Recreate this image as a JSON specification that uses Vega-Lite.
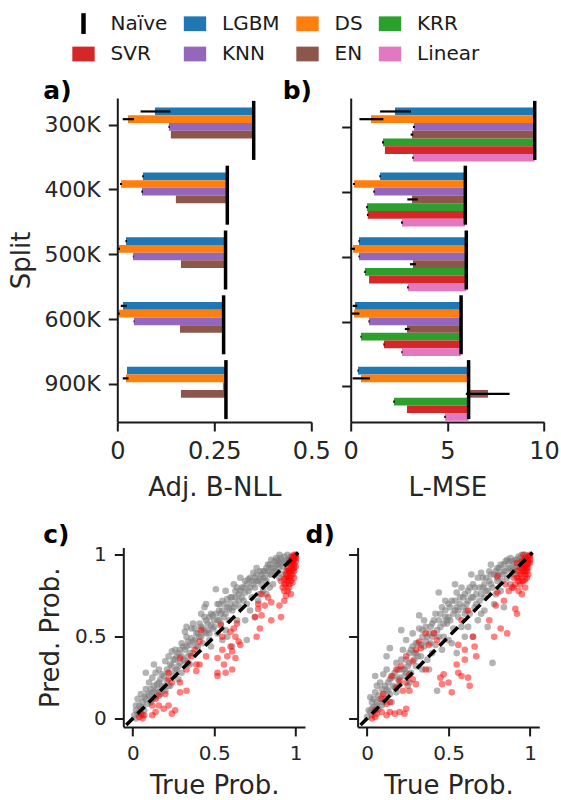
{
"$schema": "https://vega.github.io/schema/vega-lite/v6.json",
"padding": {"left": 0, "top": 12, "right": 5, "bottom": 0},
"config": {
 "font": "DejaVu Sans",
 "view": {"stroke": null},
 "axis": {"grid": false, "domainColor": "#1a1a1a", "domainWidth": 2, "tickColor": "#1a1a1a", "tickWidth": 2, "tickSize": 9, "labelColor": "#262626", "titleColor": "#262626", "labelFontSize": 22, "titleFontSize": 26, "titleFontWeight": "normal", "labelFlush": false, "labelOverlap": false, "labelPadding": 8, "titlePadding": 8},
 "title": {"fontSize": 25, "fontWeight": "bold", "color": "black", "anchor": "start", "frame": "group", "baseline": "alphabetic", "offset": -5}
},
"datasets": {
 "models": [{"model":"Naïve"},{"model":"LGBM"},{"model":"DS"},{"model":"KRR"},{"model":"SVR"},{"model":"KNN"},{"model":"EN"},{"model":"Linear"}],
 "barsA": [
  {"split":"300K","model":"LGBM","value":0.097,"naive":0.3515,"lo":0.060,"hi":0.137},
  {"split":"300K","model":"DS","value":0.0276,"naive":0.3515,"lo":0.014,"hi":0.043},
  {"split":"300K","model":"KNN","value":0.133,"naive":0.3515,"lo":0.132,"hi":0.135},
  {"split":"300K","model":"EN","value":0.138,"naive":0.3515},
  {"split":"400K","model":"LGBM","value":0.066,"naive":0.2835,"lo":0.064,"hi":0.068},
  {"split":"400K","model":"DS","value":0.0095,"naive":0.2835,"lo":0.007,"hi":0.012},
  {"split":"400K","model":"KNN","value":0.0637,"naive":0.2835,"lo":0.062,"hi":0.066},
  {"split":"400K","model":"EN","value":0.151,"naive":0.2835},
  {"split":"500K","model":"LGBM","value":0.0224,"naive":0.279,"lo":0.021,"hi":0.025},
  {"split":"500K","model":"DS","value":0.0044,"naive":0.279,"lo":0.002,"hi":0.007},
  {"split":"500K","model":"KNN","value":0.0407,"naive":0.279,"lo":0.040,"hi":0.042},
  {"split":"500K","model":"EN","value":0.164,"naive":0.279},
  {"split":"600K","model":"LGBM","value":0.0147,"naive":0.274,"lo":0.009,"hi":0.024},
  {"split":"600K","model":"DS","value":0.0044,"naive":0.274,"lo":0.002,"hi":0.006},
  {"split":"600K","model":"KNN","value":0.043,"naive":0.274,"lo":0.042,"hi":0.044},
  {"split":"600K","model":"EN","value":0.1616,"naive":0.274},
  {"split":"900K","model":"LGBM","value":0.025,"naive":0.28},
  {"split":"900K","model":"DS","value":0.0224,"naive":0.28,"lo":0.014,"hi":0.029},
  {"split":"900K","model":"KNN","value":0.272,"naive":0.28},
  {"split":"900K","model":"EN","value":0.164,"naive":0.28}
 ],
 "naiveA": [{"split":"300K","naive":0.3515},{"split":"400K","naive":0.2835},{"split":"500K","naive":0.279},{"split":"600K","naive":0.274},{"split":"900K","naive":0.28}],
 "barsB": [
  {"split":"300K","model":"LGBM","value":2.29,"naive":9.52,"lo":1.52,"hi":3.12},
  {"split":"300K","model":"DS","value":1.05,"naive":9.52,"lo":0.45,"hi":1.69},
  {"split":"300K","model":"KRR","value":1.67,"naive":9.52,"lo":1.62,"hi":1.72},
  {"split":"300K","model":"SVR","value":1.77,"naive":9.52},
  {"split":"300K","model":"KNN","value":3.27,"naive":9.52,"lo":3.22,"hi":3.32},
  {"split":"300K","model":"EN","value":3.17,"naive":9.52,"lo":3.1,"hi":3.24},
  {"split":"300K","model":"Linear","value":3.22,"naive":9.52,"lo":3.18,"hi":3.26},
  {"split":"400K","model":"LGBM","value":1.52,"naive":5.93,"lo":1.48,"hi":1.56},
  {"split":"400K","model":"DS","value":0.17,"naive":5.93,"lo":0.12,"hi":0.22},
  {"split":"400K","model":"KRR","value":0.84,"naive":5.93,"lo":0.8,"hi":0.88},
  {"split":"400K","model":"SVR","value":0.88,"naive":5.93,"lo":0.84,"hi":0.92},
  {"split":"400K","model":"KNN","value":1.21,"naive":5.93,"lo":1.17,"hi":1.25},
  {"split":"400K","model":"EN","value":3.17,"naive":5.93,"lo":2.93,"hi":3.47},
  {"split":"400K","model":"Linear","value":2.65,"naive":5.93,"lo":2.6,"hi":2.7},
  {"split":"500K","model":"LGBM","value":0.43,"naive":5.98,"lo":0.4,"hi":0.46},
  {"split":"500K","model":"DS","value":0.12,"naive":5.98,"lo":0.0,"hi":0.22},
  {"split":"500K","model":"KRR","value":0.74,"naive":5.98,"lo":0.7,"hi":0.78},
  {"split":"500K","model":"SVR","value":0.95,"naive":5.98},
  {"split":"500K","model":"KNN","value":0.43,"naive":5.98,"lo":0.4,"hi":0.46},
  {"split":"500K","model":"EN","value":3.22,"naive":5.98,"lo":3.07,"hi":3.38},
  {"split":"500K","model":"Linear","value":2.96,"naive":5.98,"lo":2.92,"hi":3.0},
  {"split":"600K","model":"LGBM","value":0.22,"naive":5.71,"lo":0.1,"hi":0.34},
  {"split":"600K","model":"DS","value":0.17,"naive":5.71,"lo":0.05,"hi":0.45},
  {"split":"600K","model":"KRR","value":0.53,"naive":5.71,"lo":0.5,"hi":0.56},
  {"split":"600K","model":"SVR","value":1.72,"naive":5.71,"lo":1.69,"hi":1.75},
  {"split":"600K","model":"KNN","value":0.95,"naive":5.71,"lo":0.92,"hi":0.98},
  {"split":"600K","model":"EN","value":2.91,"naive":5.71,"lo":2.8,"hi":3.05},
  {"split":"600K","model":"Linear","value":2.65,"naive":5.71,"lo":2.62,"hi":2.68},
  {"split":"900K","model":"LGBM","value":0.38,"naive":6.1,"lo":0.35,"hi":0.41},
  {"split":"900K","model":"DS","value":0.53,"naive":6.1,"lo":0.1,"hi":1.0},
  {"split":"900K","model":"KRR","value":2.24,"naive":6.1,"lo":2.2,"hi":2.28},
  {"split":"900K","model":"SVR","value":2.91,"naive":6.1},
  {"split":"900K","model":"KNN","value":6.1,"naive":6.1},
  {"split":"900K","model":"EN","value":7.1,"naive":6.1,"lo":5.96,"hi":8.22},
  {"split":"900K","model":"Linear","value":4.88,"naive":6.1,"lo":4.84,"hi":4.92}
 ],
 "naiveB": [{"split":"300K","naive":9.52},{"split":"400K","naive":5.93},{"split":"500K","naive":5.98},{"split":"600K","naive":5.71},{"split":"900K","naive":6.1}],
 "diag": [{"x":-0.04,"y":-0.04},{"x":1.015,"y":1.015}],
 "greyC": [
  {"x":0.01,"y":0.02},{"x":0.02,"y":0.05},{"x":0.03,"y":0.03},{"x":0.04,"y":0.08},{"x":0.05,"y":0.06},{"x":0.06,"y":0.1},{"x":0.03,"y":0.12},{"x":0.07,"y":0.05},{"x":0.08,"y":0.12},{"x":0.09,"y":0.09},{"x":0.05,"y":0.15},{"x":0.1,"y":0.14},{"x":0.02,"y":0.0},{"x":0.06,"y":0.02},{"x":0.08,"y":0.18},
  {"x":0.11,"y":0.1},{"x":0.12,"y":0.16},{"x":0.13,"y":0.2},{"x":0.14,"y":0.13},{"x":0.15,"y":0.18},{"x":0.16,"y":0.22},{"x":0.12,"y":0.25},{"x":0.17,"y":0.15},{"x":0.18,"y":0.2},{"x":0.19,"y":0.26},{"x":0.14,"y":0.28},{"x":0.2,"y":0.17},{"x":0.16,"y":0.3},{"x":0.1,"y":0.22},{"x":0.08,"y":0.28},{"x":0.13,"y":0.33},
  {"x":0.21,"y":0.23},{"x":0.22,"y":0.28},{"x":0.23,"y":0.2},{"x":0.24,"y":0.32},{"x":0.25,"y":0.26},{"x":0.26,"y":0.36},{"x":0.27,"y":0.3},{"x":0.28,"y":0.24},{"x":0.22,"y":0.38},{"x":0.24,"y":0.41},{"x":0.29,"y":0.34},{"x":0.3,"y":0.28},{"x":0.2,"y":0.35},{"x":0.26,"y":0.42},{"x":0.28,"y":0.4},
  {"x":0.31,"y":0.36},{"x":0.32,"y":0.42},{"x":0.33,"y":0.5},{"x":0.34,"y":0.38},{"x":0.35,"y":0.45},{"x":0.36,"y":0.55},{"x":0.37,"y":0.4},{"x":0.38,"y":0.48},{"x":0.39,"y":0.52},{"x":0.3,"y":0.46},{"x":0.33,"y":0.56},{"x":0.35,"y":0.33},{"x":0.4,"y":0.44},{"x":0.37,"y":0.58},{"x":0.32,"y":0.53},
  {"x":0.41,"y":0.5},{"x":0.42,"y":0.56},{"x":0.43,"y":0.46},{"x":0.44,"y":0.62},{"x":0.45,"y":0.52},{"x":0.46,"y":0.58},{"x":0.47,"y":0.48},{"x":0.48,"y":0.64},{"x":0.49,"y":0.55},{"x":0.5,"y":0.6},{"x":0.44,"y":0.68},{"x":0.45,"y":0.7},{"x":0.42,"y":0.64},{"x":0.48,"y":0.44},{"x":0.47,"y":0.52},
  {"x":0.51,"y":0.79},{"x":0.52,"y":0.52},{"x":0.53,"y":0.66},{"x":0.54,"y":0.58},{"x":0.55,"y":0.72},{"x":0.56,"y":0.62},{"x":0.57,"y":0.54},{"x":0.58,"y":0.68},{"x":0.59,"y":0.6},{"x":0.6,"y":0.74},{"x":0.52,"y":0.7},{"x":0.55,"y":0.48},{"x":0.58,"y":0.5},{"x":0.57,"y":0.78},{"x":0.53,"y":0.6},
  {"x":0.61,"y":0.66},{"x":0.62,"y":0.82},{"x":0.63,"y":0.7},{"x":0.64,"y":0.6},{"x":0.65,"y":0.76},{"x":0.66,"y":0.68},{"x":0.67,"y":0.8},{"x":0.68,"y":0.72},{"x":0.69,"y":0.84},{"x":0.7,"y":0.7},{"x":0.61,"y":0.44},{"x":0.63,"y":0.78},{"x":0.66,"y":0.86},{"x":0.69,"y":0.6},{"x":0.7,"y":0.48},
  {"x":0.71,"y":0.78},{"x":0.72,"y":0.86},{"x":0.73,"y":0.74},{"x":0.74,"y":0.89},{"x":0.75,"y":0.8},{"x":0.76,"y":0.84},{"x":0.77,"y":0.72},{"x":0.78,"y":0.9},{"x":0.79,"y":0.82},{"x":0.8,"y":0.86},{"x":0.72,"y":0.66},{"x":0.75,"y":0.62},{"x":0.78,"y":0.76},{"x":0.76,"y":0.92},{"x":0.8,"y":0.78},
  {"x":0.81,"y":0.9},{"x":0.82,"y":0.84},{"x":0.83,"y":0.94},{"x":0.84,"y":0.88},{"x":0.85,"y":0.92},{"x":0.86,"y":0.82},{"x":0.87,"y":0.96},{"x":0.88,"y":0.9},{"x":0.89,"y":0.94},{"x":0.9,"y":0.86},{"x":0.82,"y":0.76},{"x":0.85,"y":0.97},{"x":0.88,"y":0.98},{"x":0.84,"y":0.8},{"x":0.9,"y":0.96},
  {"x":0.91,"y":0.98},{"x":0.92,"y":0.93},{"x":0.93,"y":0.99},{"x":0.94,"y":0.95},{"x":0.95,"y":1.0},{"x":0.96,"y":0.97},{"x":0.97,"y":0.99},{"x":0.92,"y":0.88},{"x":0.9,"y":1.0},{"x":0.94,"y":0.9},
  {"x":0.02,"y":0.08},{"x":0.04,"y":0.04},{"x":0.06,"y":0.07},{"x":0.07,"y":0.13},{"x":0.09,"y":0.15},{"x":0.11,"y":0.18},{"x":0.12,"y":0.12},{"x":0.13,"y":0.16},{"x":0.15,"y":0.21},{"x":0.16,"y":0.16},{"x":0.17,"y":0.24},{"x":0.18,"y":0.27},{"x":0.19,"y":0.19},{"x":0.21,"y":0.3},{"x":0.22,"y":0.2},{"x":0.23,"y":0.33},{"x":0.25,"y":0.36},{"x":0.26,"y":0.29},{"x":0.27,"y":0.38},{"x":0.28,"y":0.32},{"x":0.29,"y":0.42},{"x":0.3,"y":0.38},{"x":0.31,"y":0.44},{"x":0.32,"y":0.35},{"x":0.33,"y":0.44},{"x":0.34,"y":0.47},{"x":0.35,"y":0.4},{"x":0.36,"y":0.49},{"x":0.37,"y":0.47},{"x":0.38,"y":0.55},{"x":0.39,"y":0.44},{"x":0.4,"y":0.52},{"x":0.41,"y":0.58},{"x":0.42,"y":0.5},{"x":0.43,"y":0.55},{"x":0.44,"y":0.53},{"x":0.45,"y":0.6},{"x":0.46,"y":0.54},{"x":0.47,"y":0.62},{"x":0.48,"y":0.57},{"x":0.49,"y":0.63},{"x":0.5,"y":0.56},{"x":0.51,"y":0.64},{"x":0.52,"y":0.6},{"x":0.53,"y":0.7},{"x":0.54,"y":0.64},{"x":0.55,"y":0.66},{"x":0.56,"y":0.7},{"x":0.57,"y":0.64},{"x":0.58,"y":0.73},{"x":0.59,"y":0.67},{"x":0.6,"y":0.7},{"x":0.61,"y":0.74},{"x":0.62,"y":0.68},{"x":0.63,"y":0.74},{"x":0.64,"y":0.8},{"x":0.65,"y":0.72},{"x":0.66,"y":0.78},{"x":0.67,"y":0.74},{"x":0.68,"y":0.8},{"x":0.69,"y":0.77},{"x":0.7,"y":0.82},{"x":0.71,"y":0.85},{"x":0.72,"y":0.8},{"x":0.73,"y":0.84},{"x":0.74,"y":0.82},{"x":0.75,"y":0.86},{"x":0.76,"y":0.88},{"x":0.77,"y":0.84},{"x":0.78,"y":0.85},{"x":0.79,"y":0.88},{"x":0.8,"y":0.9},{"x":0.81,"y":0.86},{"x":0.82,"y":0.92},{"x":0.83,"y":0.9},{"x":0.84,"y":0.94},{"x":0.85,"y":0.88},{"x":0.86,"y":0.92},{"x":0.87,"y":0.9},{"x":0.88,"y":0.94},{"x":0.89,"y":0.97},{"x":0.9,"y":0.92},{"x":0.91,"y":0.95},{"x":0.93,"y":0.96},{"x":0.95,"y":0.97},{"x":0.97,"y":0.98}
 ],
 "redC": [
  {"x":0.04,"y":0.01},{"x":0.05,"y":0.03},{"x":0.06,"y":0.0},{"x":0.07,"y":0.02},{"x":0.12,"y":0.02},{"x":0.14,"y":0.04},{"x":0.12,"y":0.08},{"x":0.16,"y":0.08},{"x":0.19,"y":0.06},{"x":0.22,"y":0.08},{"x":0.26,"y":0.05},{"x":0.24,"y":0.03},
  {"x":0.16,"y":0.14},{"x":0.14,"y":0.12},{"x":0.2,"y":0.15},{"x":0.29,"y":0.16},{"x":0.33,"y":0.17},{"x":0.29,"y":0.22},{"x":0.22,"y":0.24},{"x":0.24,"y":0.22},{"x":0.22,"y":0.28},{"x":0.29,"y":0.37},{"x":0.36,"y":0.38},{"x":0.34,"y":0.34},{"x":0.39,"y":0.33},
  {"x":0.33,"y":0.3},{"x":0.39,"y":0.29},{"x":0.41,"y":0.33},{"x":0.45,"y":0.38},{"x":0.38,"y":0.42},{"x":0.42,"y":0.54},{"x":0.41,"y":0.47},
  {"x":0.52,"y":0.28},{"x":0.52,"y":0.26},{"x":0.56,"y":0.33},{"x":0.57,"y":0.28},{"x":0.61,"y":0.3},{"x":0.52,"y":0.37},{"x":0.58,"y":0.38},{"x":0.61,"y":0.41},{"x":0.63,"y":0.37},{"x":0.55,"y":0.42},{"x":0.6,"y":0.44},{"x":0.65,"y":0.47},{"x":0.66,"y":0.45},{"x":0.54,"y":0.57},{"x":0.55,"y":0.5},{"x":0.6,"y":0.53},{"x":0.62,"y":0.55},{"x":0.63,"y":0.5},{"x":0.64,"y":0.58},
  {"x":0.76,"y":0.5},{"x":0.78,"y":0.55},{"x":0.75,"y":0.62},{"x":0.79,"y":0.63},{"x":0.77,"y":0.67},{"x":0.85,"y":0.6},{"x":0.91,"y":0.62},{"x":0.81,"y":0.69},{"x":0.85,"y":0.71},{"x":0.83,"y":0.74},{"x":0.79,"y":0.76},{"x":0.77,"y":0.7},{"x":0.9,"y":0.69},{"x":0.93,"y":0.72},
  {"x":0.93,"y":0.78},{"x":0.94,"y":0.82},{"x":0.95,"y":0.86},{"x":0.96,"y":0.8},{"x":0.97,"y":0.9},{"x":0.98,"y":0.94},{"x":0.99,"y":0.97},{"x":1.0,"y":1.0},{"x":0.99,"y":0.92},{"x":0.97,"y":0.84},{"x":0.95,"y":0.92},{"x":0.96,"y":0.95},{"x":0.98,"y":0.88},{"x":0.94,"y":0.88},{"x":0.93,"y":0.85},{"x":0.99,"y":1.0},{"x":0.98,"y":0.99},{"x":0.97,"y":0.97},{"x":1.0,"y":0.96},{"x":0.96,"y":0.89},{"x":0.95,"y":0.78},{"x":0.92,"y":0.8},{"x":0.94,"y":0.75},{"x":0.97,"y":0.76},{"x":0.98,"y":0.83},{"x":1.0,"y":0.93},{"x":0.99,"y":0.86},{"x":0.91,"y":0.84},
  {"x":0.96,"y":0.86},{"x":0.97,"y":0.93},{"x":0.98,"y":0.97},{"x":0.99,"y":0.94},{"x":1.0,"y":0.98},{"x":0.95,"y":0.84},{"x":0.96,"y":0.91},{"x":0.97,"y":0.87},{"x":0.98,"y":0.91},{"x":0.99,"y":0.98},{"x":0.94,"y":0.86},{"x":0.97,"y":0.95},{"x":1.0,"y":0.99},{"x":0.98,"y":0.96},{"x":0.93,"y":0.82},{"x":0.95,"y":0.9},{"x":0.96,"y":0.82},{"x":0.99,"y":0.9}
 ],
 "greyD": [
  {"x":0.0,"y":0.01},{"x":0.02,"y":0.04},{"x":0.03,"y":0.02},{"x":0.04,"y":0.07},{"x":0.05,"y":0.05},{"x":0.06,"y":0.1},{"x":0.07,"y":0.06},{"x":0.08,"y":0.12},{"x":0.03,"y":0.1},{"x":0.05,"y":0.16},{"x":0.09,"y":0.08},{"x":0.1,"y":0.15},{"x":0.06,"y":0.2},{"x":0.05,"y":0.26},{"x":0.08,"y":0.22},{"x":0.02,"y":0.13},
  {"x":0.11,"y":0.12},{"x":0.12,"y":0.18},{"x":0.13,"y":0.22},{"x":0.14,"y":0.15},{"x":0.15,"y":0.25},{"x":0.16,"y":0.2},{"x":0.17,"y":0.28},{"x":0.18,"y":0.16},{"x":0.19,"y":0.24},{"x":0.2,"y":0.3},{"x":0.12,"y":0.3},{"x":0.14,"y":0.43},{"x":0.12,"y":0.38},{"x":0.18,"y":0.34},{"x":0.15,"y":0.1},{"x":0.2,"y":0.21},{"x":0.1,"y":0.27},
  {"x":0.21,"y":0.54},{"x":0.22,"y":0.3},{"x":0.23,"y":0.26},{"x":0.24,"y":0.36},{"x":0.25,"y":0.32},{"x":0.26,"y":0.4},{"x":0.27,"y":0.28},{"x":0.28,"y":0.44},{"x":0.29,"y":0.36},{"x":0.3,"y":0.32},{"x":0.22,"y":0.42},{"x":0.24,"y":0.48},{"x":0.26,"y":0.22},{"x":0.28,"y":0.52},{"x":0.3,"y":0.4},{"x":0.25,"y":0.2},
  {"x":0.31,"y":0.46},{"x":0.32,"y":0.63},{"x":0.33,"y":0.38},{"x":0.34,"y":0.5},{"x":0.35,"y":0.44},{"x":0.36,"y":0.56},{"x":0.37,"y":0.36},{"x":0.38,"y":0.52},{"x":0.39,"y":0.46},{"x":0.4,"y":0.58},{"x":0.32,"y":0.55},{"x":0.35,"y":0.6},{"x":0.38,"y":0.3},{"x":0.34,"y":0.3},{"x":0.4,"y":0.4},
  {"x":0.41,"y":0.52},{"x":0.42,"y":0.64},{"x":0.43,"y":0.17},{"x":0.44,"y":0.77},{"x":0.45,"y":0.56},{"x":0.46,"y":0.68},{"x":0.47,"y":0.5},{"x":0.48,"y":0.62},{"x":0.49,"y":0.58},{"x":0.5,"y":0.7},{"x":0.42,"y":0.45},{"x":0.44,"y":0.6},{"x":0.46,"y":0.42},{"x":0.48,"y":0.72},{"x":0.5,"y":0.48},
  {"x":0.51,"y":0.6},{"x":0.52,"y":0.72},{"x":0.53,"y":0.55},{"x":0.54,"y":0.66},{"x":0.55,"y":0.77},{"x":0.56,"y":0.62},{"x":0.57,"y":0.7},{"x":0.58,"y":0.56},{"x":0.59,"y":0.74},{"x":0.6,"y":0.64},{"x":0.52,"y":0.46},{"x":0.55,"y":0.4},{"x":0.58,"y":0.8},{"x":0.6,"y":0.5},{"x":0.54,"y":0.82},
  {"x":0.61,"y":0.7},{"x":0.62,"y":0.78},{"x":0.63,"y":0.64},{"x":0.64,"y":0.74},{"x":0.65,"y":0.82},{"x":0.66,"y":0.68},{"x":0.67,"y":0.76},{"x":0.68,"y":0.86},{"x":0.69,"y":0.72},{"x":0.7,"y":0.89},{"x":0.62,"y":0.56},{"x":0.65,"y":0.5},{"x":0.68,"y":0.6},{"x":0.64,"y":0.88},{"x":0.7,"y":0.64},
  {"x":0.71,"y":0.8},{"x":0.72,"y":0.74},{"x":0.73,"y":0.86},{"x":0.74,"y":0.78},{"x":0.75,"y":0.9},{"x":0.76,"y":0.82},{"x":0.77,"y":0.34},{"x":0.78,"y":0.88},{"x":0.79,"y":0.76},{"x":0.8,"y":0.92},{"x":0.72,"y":0.66},{"x":0.74,"y":0.56},{"x":0.76,"y":0.94},{"x":0.78,"y":0.7},{"x":0.8,"y":0.84},
  {"x":0.81,"y":0.88},{"x":0.82,"y":0.94},{"x":0.83,"y":0.84},{"x":0.84,"y":0.9},{"x":0.85,"y":0.96},{"x":0.86,"y":0.86},{"x":0.87,"y":0.92},{"x":0.88,"y":0.98},{"x":0.89,"y":0.9},{"x":0.9,"y":0.95},{"x":0.82,"y":0.78},{"x":0.84,"y":0.68},{"x":0.86,"y":0.97},{"x":0.88,"y":0.82},{"x":0.9,"y":0.88},
  {"x":0.91,"y":0.97},{"x":0.92,"y":0.93},{"x":0.93,"y":0.99},{"x":0.94,"y":0.96},{"x":0.95,"y":1.0},{"x":0.96,"y":0.98},{"x":0.97,"y":1.0},{"x":0.93,"y":0.9},{"x":0.91,"y":0.92},{"x":0.95,"y":0.94},
  {"x":0.01,"y":0.05},{"x":0.03,"y":0.06},{"x":0.04,"y":0.12},{"x":0.06,"y":0.08},{"x":0.07,"y":0.14},{"x":0.09,"y":0.18},{"x":0.1,"y":0.1},{"x":0.11,"y":0.2},{"x":0.13,"y":0.17},{"x":0.14,"y":0.24},{"x":0.16,"y":0.26},{"x":0.17,"y":0.19},{"x":0.19,"y":0.3},{"x":0.2,"y":0.25},{"x":0.21,"y":0.36},{"x":0.23,"y":0.3},{"x":0.24,"y":0.28},{"x":0.26,"y":0.34},{"x":0.27,"y":0.42},{"x":0.29,"y":0.4},{"x":0.3,"y":0.46},{"x":0.31,"y":0.38},{"x":0.33,"y":0.45},{"x":0.34,"y":0.54},{"x":0.36,"y":0.47},{"x":0.37,"y":0.5},{"x":0.39,"y":0.56},{"x":0.4,"y":0.5},{"x":0.41,"y":0.6},{"x":0.43,"y":0.54},{"x":0.44,"y":0.5},{"x":0.45,"y":0.64},{"x":0.47,"y":0.58},{"x":0.48,"y":0.66},{"x":0.49,"y":0.6},{"x":0.5,"y":0.62},{"x":0.51,"y":0.68},{"x":0.53,"y":0.64},{"x":0.54,"y":0.72},{"x":0.55,"y":0.68},{"x":0.56,"y":0.66},{"x":0.57,"y":0.74},{"x":0.59,"y":0.68},{"x":0.6,"y":0.76},{"x":0.61,"y":0.66},{"x":0.62,"y":0.72},{"x":0.63,"y":0.8},{"x":0.65,"y":0.74},{"x":0.66,"y":0.8},{"x":0.67,"y":0.7},{"x":0.69,"y":0.8},{"x":0.7,"y":0.76},{"x":0.71,"y":0.86},{"x":0.72,"y":0.82},{"x":0.73,"y":0.78},{"x":0.75,"y":0.84},{"x":0.76,"y":0.88},{"x":0.77,"y":0.8},{"x":0.79,"y":0.9},{"x":0.8,"y":0.86},{"x":0.81,"y":0.92},{"x":0.83,"y":0.88},{"x":0.84,"y":0.94},{"x":0.85,"y":0.9},{"x":0.87,"y":0.96},{"x":0.88,"y":0.92},{"x":0.89,"y":0.96},{"x":0.9,"y":0.91},{"x":0.92,"y":0.97},{"x":0.94,"y":0.98},{"x":0.96,"y":0.96},{"x":0.98,"y":0.99}
 ],
 "redD": [
  {"x":0.03,"y":0.0},{"x":0.05,"y":0.01},{"x":0.06,"y":0.03},{"x":0.05,"y":0.05},{"x":0.09,"y":0.04},{"x":0.12,"y":0.02},{"x":0.14,"y":0.04},{"x":0.17,"y":0.03},{"x":0.2,"y":0.04},{"x":0.23,"y":0.03},{"x":0.24,"y":0.06},{"x":0.09,"y":0.12},{"x":0.12,"y":0.09},{"x":0.14,"y":0.1},{"x":0.1,"y":0.15},
  {"x":0.18,"y":0.19},{"x":0.22,"y":0.17},{"x":0.26,"y":0.17},{"x":0.24,"y":0.22},{"x":0.2,"y":0.23},{"x":0.15,"y":0.26},{"x":0.18,"y":0.3},{"x":0.21,"y":0.32},{"x":0.26,"y":0.27},{"x":0.28,"y":0.24},{"x":0.3,"y":0.21},
  {"x":0.24,"y":0.38},{"x":0.28,"y":0.35},{"x":0.3,"y":0.42},{"x":0.33,"y":0.43},{"x":0.36,"y":0.52},{"x":0.32,"y":0.47},{"x":0.38,"y":0.45},{"x":0.43,"y":0.48},{"x":0.41,"y":0.52},{"x":0.36,"y":0.3},
  {"x":0.45,"y":0.25},{"x":0.47,"y":0.27},{"x":0.46,"y":0.21},{"x":0.5,"y":0.22},{"x":0.52,"y":0.16},{"x":0.56,"y":0.28},{"x":0.55,"y":0.33},{"x":0.58,"y":0.26},{"x":0.63,"y":0.2},{"x":0.62,"y":0.25},{"x":0.6,"y":0.36},{"x":0.56,"y":0.45},{"x":0.6,"y":0.42},{"x":0.66,"y":0.44},{"x":0.67,"y":0.38},{"x":0.65,"y":0.5},{"x":0.62,"y":0.66},{"x":0.58,"y":0.6},
  {"x":0.78,"y":0.5},{"x":0.86,"y":0.52},{"x":0.82,"y":0.55},{"x":0.75,"y":0.6},{"x":0.79,"y":0.69},{"x":0.8,"y":0.77},{"x":0.8,"y":0.87},{"x":0.84,"y":0.72},{"x":0.91,"y":0.67},{"x":0.92,"y":0.64},{"x":0.87,"y":0.78},{"x":0.85,"y":0.82},{"x":0.89,"y":0.8},
  {"x":0.9,"y":0.86},{"x":0.91,"y":0.82},{"x":0.92,"y":0.9},{"x":0.93,"y":0.78},{"x":0.93,"y":0.86},{"x":0.94,"y":0.92},{"x":0.94,"y":0.82},{"x":0.95,"y":0.88},{"x":0.95,"y":0.96},{"x":0.96,"y":0.84},{"x":0.96,"y":0.92},{"x":0.97,"y":0.98},{"x":0.97,"y":0.88},{"x":0.98,"y":0.94},{"x":0.98,"y":0.9},{"x":0.99,"y":0.99},{"x":0.99,"y":0.95},{"x":1.0,"y":1.0},{"x":1.0,"y":0.97},{"x":0.97,"y":0.8},{"x":0.95,"y":0.76},{"x":0.99,"y":0.88},{"x":0.92,"y":0.95},{"x":0.96,"y":1.0},{"x":0.98,"y":0.86},{"x":0.9,"y":0.8},
  {"x":0.95,"y":0.84},{"x":0.96,"y":0.9},{"x":0.97,"y":0.93},{"x":0.98,"y":0.97},{"x":0.99,"y":0.92},{"x":1.0,"y":0.99},{"x":0.94,"y":0.88},{"x":0.96,"y":0.94},{"x":0.97,"y":0.85},{"x":0.98,"y":0.92},{"x":0.99,"y":0.96},{"x":0.93,"y":0.84},{"x":0.95,"y":0.92},{"x":0.97,"y":0.9},{"x":1.0,"y":0.95},{"x":0.92,"y":0.86}
 ]
},
"spacing": 22.5,
"vconcat": [
 {"bounds": "flush", "spacing": 116.3, "hconcat": [
  {"width": 1, "height": 1, "data": {"values": []}, "mark": "point"},
  {"bounds": "flush", "spacing": 39.4, "hconcat": [
  {"width": 194, "height": 324,
   "title": {"text": "a)", "dx": -74, "offset": -6},
   "layer": [
    {"data": {"name": "barsA"}, "mark": {"type": "bar"},
     "encoding": {
      "y": {"field": "split", "type": "nominal", "scale": {"domain": ["300K","400K","500K","600K","900K"], "paddingInner": 0, "paddingOuter": 0}, "axis": {"title": "Split", "tickOffset": -5.7, "labelFontSize": 22, "titlePadding": 9}},
      "yOffset": {"field": "model", "type": "nominal", "scale": {"domain": ["LGBM","DS","KNN","EN"], "paddingInner": 0, "paddingOuter": 0.7, "align": 0.89}},
      "x": {"field": "value", "type": "quantitative", "scale": {"domain": [0, 0.5], "nice": false}, "axis": {"values": [0, 0.25, 0.5], "format": ".12~g", "title": "Adj. B-NLL", "labelFontSize": 24, "titlePadding": 11}},
      "x2": {"field": "naive"},
      "color": {"field": "model", "type": "nominal", "scale": {"domain": ["Naïve","LGBM","DS","KRR","SVR","KNN","EN","Linear"], "range": ["#000000","#1f77b4","#ff7f0e","#2ca02c","#d62728","#9467bd","#8c564b","#e377c2"]}}
     }},
    {"data": {"name": "barsA"}, "mark": {"type": "rule", "color": "black", "strokeWidth": 2.2},
     "encoding": {
      "y": {"field": "split", "type": "nominal"},
      "yOffset": {"field": "model", "type": "nominal"},
      "x": {"field": "lo", "type": "quantitative"},
      "x2": {"field": "hi"}
     }},
    {"data": {"name": "naiveA"}, "mark": {"type": "tick", "color": "black", "thickness": 3.5, "size": 59, "opacity": 1},
     "encoding": {
      "y": {"field": "split", "type": "nominal"},
      "x": {"field": "naive", "type": "quantitative"}
     }},
    {"data": {"name": "models"}, "transform": [{"filter": "false"}], "mark": {"type": "point", "filled": true, "opacity": 1},
     "encoding": {
      "color": {"field": "model", "type": "nominal", "legend": {"orient": "none", "legendX": 72, "legendY": -86, "columns": 4, "title": null, "symbolSize": 500, "symbolOpacity": 1, "labelFontSize": 20, "labelColor": "#1a1a1a", "labelOffset": 15.5, "columnPadding": 15.5, "rowPadding": 8.5, "symbolStrokeWidth": 0, "direction": "horizontal"}},
      "shape": {"field": "model", "type": "nominal", "scale": {"domain": ["Naïve","LGBM","DS","KRR","SVR","KNN","EN","Linear"], "range": ["M-0.2,-0.93H0.2V0.93H-0.2Z","M-1,-0.66H1V0.66H-1Z","M-1,-0.66H1V0.66H-1Z","M-1,-0.66H1V0.66H-1Z","M-1,-0.66H1V0.66H-1Z","M-1,-0.66H1V0.66H-1Z","M-1,-0.66H1V0.66H-1Z","M-1,-0.66H1V0.66H-1Z"]}, "legend": {"orient": "none", "legendX": 72, "legendY": -86, "columns": 4, "title": null, "symbolSize": 500, "symbolOpacity": 1, "labelFontSize": 20, "labelColor": "#1a1a1a", "labelOffset": 15.5, "columnPadding": 15.5, "rowPadding": 8.5, "symbolStrokeWidth": 0, "direction": "horizontal"}}
     }}
   ]},
  {"width": 193.3, "height": 324,
   "title": {"text": "b)", "dx": -68, "offset": -6},
   "layer": [
    {"data": {"name": "barsB"}, "mark": {"type": "bar"},
     "encoding": {
      "y": {"field": "split", "type": "nominal", "scale": {"domain": ["300K","400K","500K","600K","900K"], "paddingInner": 0, "paddingOuter": 0}, "axis": {"title": null, "labels": false, "tickOffset": -3.1}},
      "yOffset": {"field": "model", "type": "nominal", "scale": {"domain": ["LGBM","DS","KRR","SVR","KNN","EN","Linear"], "paddingInner": 0, "paddingOuter": 0.89, "align": 0.84}},
      "x": {"field": "value", "type": "quantitative", "scale": {"domain": [0, 10], "nice": false}, "axis": {"values": [0, 5, 10], "format": ".12~g", "title": "L-MSE", "labelFontSize": 24, "titlePadding": 11}},
      "x2": {"field": "naive"},
      "color": {"field": "model", "type": "nominal"}
     }},
    {"data": {"name": "barsB"}, "mark": {"type": "rule", "color": "black", "strokeWidth": 2.2},
     "encoding": {
      "y": {"field": "split", "type": "nominal"},
      "yOffset": {"field": "model", "type": "nominal"},
      "x": {"field": "lo", "type": "quantitative"},
      "x2": {"field": "hi"}
     }},
    {"data": {"name": "naiveB"}, "mark": {"type": "tick", "color": "black", "thickness": 3.5, "size": 59, "opacity": 1},
     "encoding": {
      "y": {"field": "split", "type": "nominal"},
      "x": {"field": "naive", "type": "quantitative"}
     }}
   ]}
  ]}
 ]},
 {"bounds": "flush", "spacing": 122.3, "hconcat": [
  {"width": 1, "height": 1, "data": {"values": []}, "mark": "point"},
  {"bounds": "flush", "spacing": 52.3, "hconcat": [
   {"width": 181.7, "height": 179.4,
    "title": {"text": "c)", "dx": -80, "offset": -3},
    "layer": [
     {"data": {"name": "greyC"}, "mark": {"type": "circle", "size": 44, "color": "#808080", "opacity": 0.6},
      "encoding": {
       "x": {"field": "x", "type": "quantitative", "scale": {"domain": [-0.058, 1.057], "nice": false, "zero": false}, "axis": {"values": [0, 0.5, 1], "format": ".12~g", "title": "True Prob.", "labelFontSize": 20, "titlePadding": 9}},
       "y": {"field": "y", "type": "quantitative", "scale": {"domain": [-0.051, 1.045], "nice": false, "zero": false}, "axis": {"values": [0, 0.5, 1], "format": ".12~g", "title": "Pred. Prob.", "labelFontSize": 20, "titlePadding": 11}}
      }},
     {"data": {"name": "redC"}, "mark": {"type": "circle", "size": 44, "color": "#ff0000", "opacity": 0.5},
      "encoding": {"x": {"field": "x", "type": "quantitative"}, "y": {"field": "y", "type": "quantitative"}}},
     {"data": {"name": "diag"}, "mark": {"type": "line", "color": "black", "strokeWidth": 3.5, "strokeDash": [10, 6]},
      "encoding": {"x": {"field": "x", "type": "quantitative"}, "y": {"field": "y", "type": "quantitative"}}}
    ]},
   {"width": 181.7, "height": 179.4,
    "title": {"text": "d)", "dx": -52, "offset": -3},
    "layer": [
     {"data": {"name": "greyD"}, "mark": {"type": "circle", "size": 44, "color": "#808080", "opacity": 0.6},
      "encoding": {
       "x": {"field": "x", "type": "quantitative", "scale": {"domain": [-0.058, 1.057], "nice": false, "zero": false}, "axis": {"values": [0, 0.5, 1], "format": ".12~g", "title": "True Prob.", "labelFontSize": 20, "titlePadding": 9}},
       "y": {"field": "y", "type": "quantitative", "scale": {"domain": [-0.051, 1.045], "nice": false, "zero": false}, "axis": {"values": [0, 0.5, 1], "labels": false, "title": null}}
      }},
     {"data": {"name": "redD"}, "mark": {"type": "circle", "size": 44, "color": "#ff0000", "opacity": 0.5},
      "encoding": {"x": {"field": "x", "type": "quantitative"}, "y": {"field": "y", "type": "quantitative"}}},
     {"data": {"name": "diag"}, "mark": {"type": "line", "color": "black", "strokeWidth": 3.5, "strokeDash": [10, 6]},
      "encoding": {"x": {"field": "x", "type": "quantitative"}, "y": {"field": "y", "type": "quantitative"}}}
    ]}
  ]}
 ]}
]
}
